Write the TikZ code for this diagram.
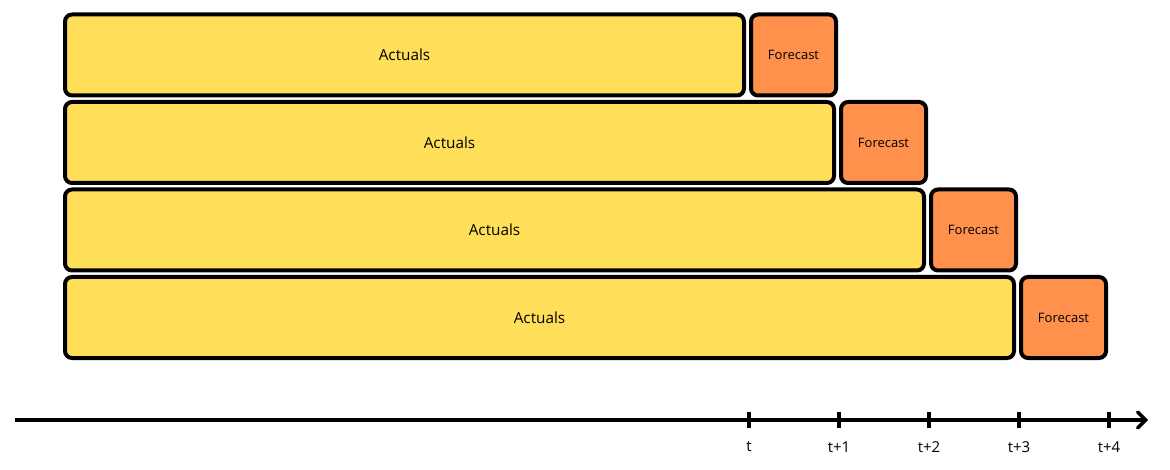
\documentclass[tikz,border=0pt]{standalone}
\usepackage{fontspec}
\setmainfont{Open Sans}
\usetikzlibrary{arrows.meta}
\definecolor{actualsyellow}{HTML}{FFDE59}
\definecolor{forecastorange}{HTML}{FF914D}
\tikzset{
  actuals/.style={draw, line width=4pt, rounded corners=7pt, fill=actualsyellow,
    minimum height=81pt, inner sep=0pt, font=\fontsize{15.3}{18}\selectfont},
  forecast/.style={draw, line width=4pt, rounded corners=7pt, fill=forecastorange,
    minimum width=85pt, minimum height=81pt, inner sep=0pt, font=\fontsize{13}{15}\selectfont},
  tick/.style={line width=3.5pt},
  ticklabel/.style={font=\fontsize{15}{17}\selectfont}
}
\begin{document}
\begin{tikzpicture}[x=1pt, y=-1pt]
\useasboundingbox (0,0) rectangle (1170,470);
% rows of actuals and forecasts
\node[actuals, minimum width=679pt] (a0) at (404.5,55) {Actuals};
\node[forecast] (f0) at (793.5,55) {Forecast};
\node[actuals, minimum width=769pt] (a1) at (449.5,142.5) {Actuals};
\node[forecast] (f1) at (883.5,142.5) {Forecast};
\node[actuals, minimum width=859pt] (a2) at (494.5,230) {Actuals};
\node[forecast] (f2) at (973.5,230) {Forecast};
\node[actuals, minimum width=949pt] (a3) at (539.5,317.5) {Actuals};
\node[forecast] (f3) at (1063.5,317.5) {Forecast};
% time axis
\coordinate (start) at (15,420);
\coordinate (end) at (1148,420);
\draw[line width=3.5pt, -{Straight Barb[length=8pt, width=16pt, line cap=round]}] (start) -- (end);
\foreach \x/\lab [count=\i from 0] in {749/t, 839/t+1, 929/t+2, 1019/t+3, 1109/t+4} {
  \coordinate (t\i) at (\x,420);
  \draw[tick] ([yshift=-8pt]t\i) -- ([yshift=8pt]t\i);
  \node[ticklabel] (l\i) at (\x,447) {\lab};
}
\end{tikzpicture}
\end{document}
